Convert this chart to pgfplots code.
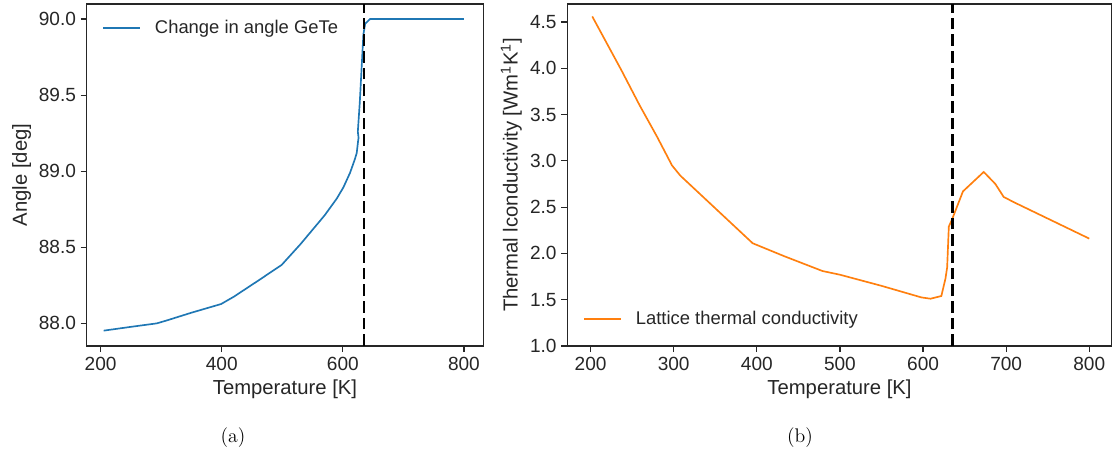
\documentclass[border=0pt]{standalone}
\usepackage{pgfplots}
\pgfplotsset{compat=1.18}
\usepackage{fontspec}
\newfontfamily\arial{Liberation Sans}
\definecolor{tblue}{HTML}{1F77B4}
\definecolor{torange}{HTML}{FF7F0E}
\definecolor{txt}{HTML}{262626}
\pgfplotsset{
  mystyle/.style={
    scale only axis,
    axis line style={draw=txt, line width=0.9pt},
    tick align=outside,
    tick pos=left,
    major tick length=4.5pt,
    tick style={draw=txt, line width=0.9pt},
    /pgf/number format/assume math mode=true,
    ticklabel style={font=\arial\fontsize{14.3}{16}\selectfont, text=txt},
    label style={font=\arial\fontsize{15.2}{17}\selectfont, text=txt},
    xlabel style={at={(axis description cs:0.5,0)}, anchor=base, yshift=-36.4pt},
    legend style={draw=none, fill=none, inner sep=0pt, outer sep=0pt,
      column sep=0pt, font=\arial\fontsize{13.8}{16}\selectfont,
      nodes={inner sep=0pt, outer sep=0pt, text=txt}, cells={anchor=west}},
  }
}
\begin{document}
\begin{tikzpicture}
\useasboundingbox (-65.0pt,-82.5pt) rectangle (769.7pt,259.5pt);
% ---------------- (a)
\begin{axis}[mystyle,
  at={(0pt,0pt)}, anchor=south west,
  width=297.45pt, height=256.5pt,
  xmin=177, xmax=832, ymin=87.851, ymax=90.099,
  xtick={200,400,600,800},
  ytick={88.0,88.5,89.0,89.5,90.0},
  yticklabel style={/pgf/number format/.cd, fixed, fixed zerofill, precision=1},
  xlabel={Temperature [K]},
  ylabel={Angle [deg]},
  ylabel style={at={(axis description cs:-0.1639,0.5)}, anchor=center},
  legend style={at={(axis description cs:0.0403,0.930)}, anchor=west},
  legend image code/.code={\draw[#1] (0pt,0pt) -- (27.5pt,0pt); \path (38pt,0pt);},
]
\addplot[tblue, line width=1.25pt, forget plot] coordinates {
(205,87.952) (250,87.977) (293,88.0) (310,88.02) (350,88.07) (399,88.127)
(420,88.175) (460,88.28) (499,88.384) (530,88.52) (570,88.71) (590,88.82)
(601,88.894) (612,88.99) (620,89.08) (623,89.12) (625,89.19) (626,89.22)
(624.8,89.26) (628,89.45) (630,89.6) (632,89.75) (634,89.9) (637,89.97)
(645,90.0) (700,90.0) (800,90.0)};
\addlegendimage{tblue, line width=1.25pt}
\addlegendentry{Change in angle GeTe}
\addplot[black, line width=2.2pt, dash pattern=on 8.75pt off 3.75pt, forget plot]
  coordinates {(635,87.851) (635,90.099)};
\end{axis}
% ---------------- (b)
\begin{axis}[mystyle,
  at={(360.45pt,0pt)}, anchor=south west,
  width=408.3pt, height=256.5pt,
  xmin=172, xmax=827, ymin=1.0, ymax=4.694,
  xtick={200,300,400,500,600,700,800},
  ytick={1.0,1.5,2.0,2.5,3.0,3.5,4.0,4.5},
  yticklabel style={/pgf/number format/.cd, fixed, fixed zerofill, precision=1},
  xlabel={Temperature [K]},
  ylabel={Thermal lconductivity [Wm\textsuperscript{1}K\textsuperscript{1}]},
  ylabel style={at={(axis description cs:-0.1027,0.5)}, anchor=center},
  legend style={at={(axis description cs:0.0298,0.0795)}, anchor=west},
  legend image code/.code={\draw[#1] (0pt,0pt) -- (27.5pt,0pt); \path (38pt,0pt);},
]
\addplot[torange, line width=1.25pt, forget plot] coordinates {
(202,4.56) (237,3.98) (259,3.60) (280,3.26) (298,2.95) (308,2.84)
(395,2.11) (433,1.97) (479,1.81) (500,1.77) (550,1.65) (598,1.525)
(609,1.511) (622,1.54) (627,1.73) (629,1.85) (631,2.29) (635,2.37)
(648,2.67) (673,2.88) (687,2.75) (697,2.61) (710,2.55) (800,2.16)};
\addlegendimage{torange, line width=1.25pt}
\addlegendentry{Lattice thermal conductivity}
\addplot[black, line width=2.2pt, dash pattern=on 8.75pt off 3.75pt, forget plot]
  coordinates {(635,1.0) (635,4.694)};
\end{axis}
\node[anchor=base, font=\fontsize{14.8}{17}\selectfont] at (109.7pt,-72pt) {(a)};
\node[anchor=base, font=\fontsize{14.8}{17}\selectfont] at (535pt,-72pt) {(b)};
\end{tikzpicture}
\end{document}
